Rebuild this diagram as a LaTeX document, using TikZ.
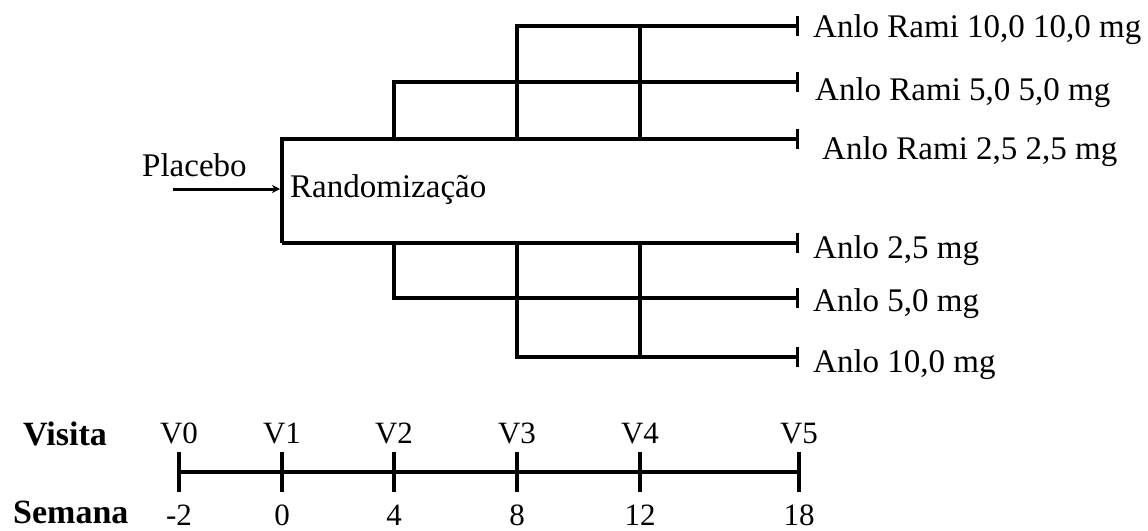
\documentclass[tikz,border=0pt]{standalone}
\usepackage{fontspec}
\setmainfont{Liberation Serif}
\usetikzlibrary{arrows.meta}
\tikzset{
  branch/.style={line width=4pt, line join=miter, -{Bar[width=20pt,line width=3.5pt]}},
  plain/.style={line width=4pt, line join=miter},
  lbl/.style={anchor=base west, inner sep=0pt, font=\fontsize{33}{36}\selectfont},
  tl/.style={anchor=base, inner sep=0pt, font=\fontsize{31}{34}\selectfont},
  hdr/.style={anchor=base west, inner sep=0pt, font=\fontsize{34}{36}\selectfont\bfseries},
  tick/.style={line width=4pt},
}
\begin{document}
\begin{tikzpicture}[x=1pt,y=-1pt]
\useasboundingbox (0,0) rectangle (1148,530);
% junction coordinates
\coordinate (bl) at (282,243);
\coordinate (tl0) at (282,139);
\coordinate (c1t) at (394,139);
\coordinate (c1u) at (394,82);
\coordinate (c2t) at (517,139);
\coordinate (c2u) at (517,26);
\coordinate (c3t) at (640,139);
\coordinate (c3u) at (640,26);
\coordinate (c1b) at (394,243);
\coordinate (c1d) at (394,298);
\coordinate (c2b) at (517,243);
\coordinate (c2d) at (517,357);
\coordinate (c3b) at (640,243);
\coordinate (c3d) at (640,357);
\coordinate (e1) at (799,26);
\coordinate (e2) at (799,82);
\coordinate (e3) at (799,139);
\coordinate (e4) at (799,243);
\coordinate (e5) at (799,298);
\coordinate (e6) at (799,357);
\coordinate (pa) at (173,189);
\coordinate (pb) at (280,189);

% labels
\node[lbl] (l1) at (813,37) {Anlo Rami 10,0 10,0 mg};
\node[lbl] (l2) at (815,100) {Anlo Rami 5,0 5,0 mg};
\node[lbl] (l3) at (822,159) {Anlo Rami 2,5 2,5 mg};
\node[lbl] (l4) at (813,258) {Anlo 2,5 mg};
\node[lbl] (l5) at (813,311) {Anlo 5,0 mg};
\node[lbl] (l6) at (813,372) {Anlo 10,0 mg};
\node[lbl] (plac) at (142,176) {Placebo};
\node[lbl] (rand) at (290,197) {Randomização};

% structure
\draw[branch] (bl) -- (tl0) -- (e3);
\draw[branch] (bl) -- (e4);
\draw[branch] (c1t) -- (c1u) -- (e2);
\draw[branch] (c2t) -- (c2u) -- (e1);
\draw[plain] (c3t) -- (c3u);
\draw[branch] (c1b) -- (c1d) -- (e5);
\draw[branch] (c2b) -- (c2d) -- (e6);
\draw[plain] (c3b) -- (c3d);
\draw[line width=3pt, -{Stealth[length=8pt,width=8pt]}] (pa) -- (pb);

% timeline
\node[hdr] (visita) at (23,445) {Visita};
\node[hdr] (semana) at (13,523) {Semana};
\coordinate (t0) at (179,472);
\coordinate (t1) at (282,472);
\coordinate (t2) at (394,472);
\coordinate (t3) at (517,472);
\coordinate (t4) at (640,472);
\coordinate (t5) at (799,472);
\draw[line width=4.5pt] (t0) -- (t5);
\foreach \t/\v/\w in {t0/V0/-2, t1/V1/0, t2/V2/4, t3/V3/8, t4/V4/12, t5/V5/18}{
  \draw[tick] ([yshift=20pt]\t) -- ([yshift=-20pt]\t);
  \node[tl] (v\t) at ([yshift=29pt]\t) {\v};
  \node[tl] (w\t) at ([yshift=-53pt]\t) {\w};
}
\end{tikzpicture}
\end{document}
